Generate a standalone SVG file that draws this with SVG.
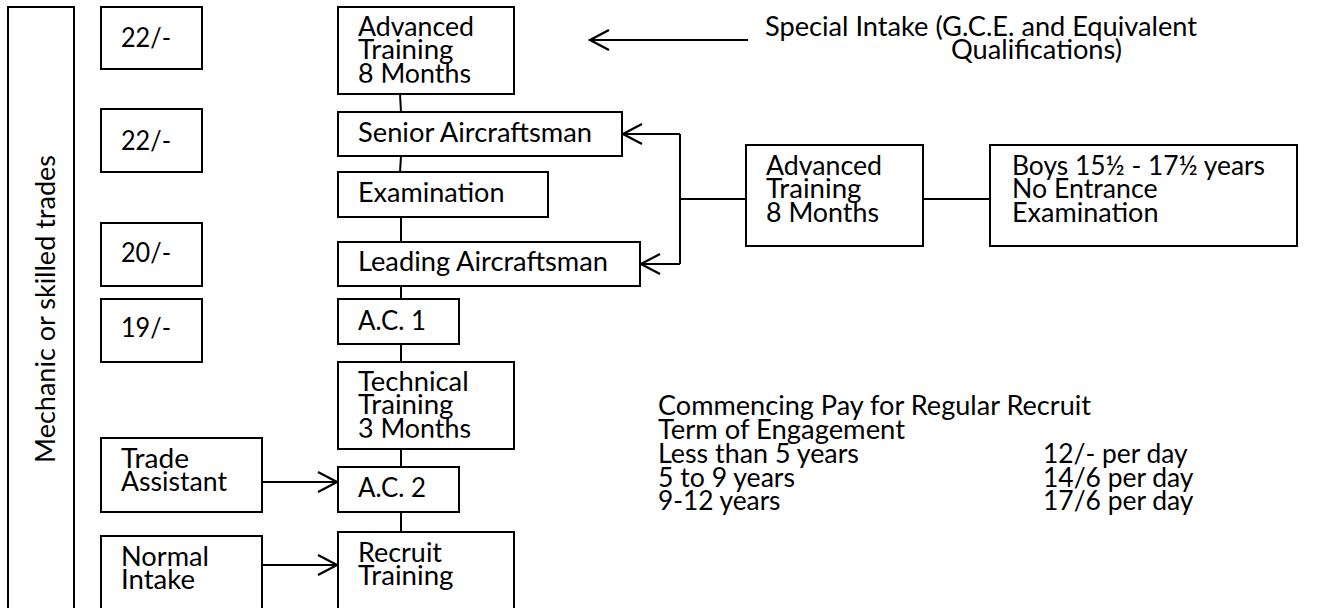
<svg xmlns="http://www.w3.org/2000/svg" width="1326" height="608" viewBox="0 0 1326 608">
<style>
.box{fill:#fff;stroke:#000;stroke-width:2}
.t{font-family:Lato,"Open Sans","Liberation Sans",sans-serif;font-size:26px;fill:#000}
.ln{fill:none;stroke:#000;stroke-width:2}
</style>
<defs>
<marker id="ah" viewBox="0 0 22 22" refX="20" refY="11" markerWidth="22" markerHeight="22" markerUnits="userSpaceOnUse" orient="auto">
<path d="M1,1 L20,11 L1,21" fill="none" stroke="#000" stroke-width="2.2"/>
</marker>
<clipPath id="c1"><rect x="338" y="7" width="176" height="75.8"/></clipPath>
<clipPath id="c2"><rect x="338" y="362" width="176" height="75.8"/></clipPath>
</defs>
<rect width="1326" height="608" fill="#fff"/>

<g id="trades">
<rect class="box" x="8" y="7" width="66" height="620"/>
<text class="t" transform="translate(55,463) rotate(-90)" x="0" y="0" textLength="308" lengthAdjust="spacingAndGlyphs">Mechanic or skilled trades</text>
</g>

<g id="pay1"><rect class="box" x="101" y="7" width="101" height="62"/><text class="t" x="121" y="47" textLength="50" lengthAdjust="spacingAndGlyphs">22/-</text></g>
<g id="pay2"><rect class="box" x="101" y="109" width="101" height="63"/><text class="t" x="121" y="150" textLength="50" lengthAdjust="spacingAndGlyphs">22/-</text></g>
<g id="pay3"><rect class="box" x="101" y="223" width="101" height="63"/><text class="t" x="121" y="262" textLength="50" lengthAdjust="spacingAndGlyphs">20/-</text></g>
<g id="pay4"><rect class="box" x="101" y="299" width="101" height="63"/><text class="t" x="121" y="337" textLength="50" lengthAdjust="spacingAndGlyphs">19/-</text></g>
<g id="trade-assistant"><rect class="box" x="101" y="438" width="161" height="74"/>
<text class="t" x="121" y="468" textLength="68" lengthAdjust="spacingAndGlyphs">Trade</text>
<text class="t" x="121" y="491" textLength="106" lengthAdjust="spacingAndGlyphs">Assistant</text></g>
<g id="normal-intake"><rect class="box" x="101" y="536" width="161" height="90"/>
<text class="t" x="121" y="566" textLength="88" lengthAdjust="spacingAndGlyphs">Normal</text>
<text class="t" x="121" y="589" textLength="74" lengthAdjust="spacingAndGlyphs">Intake</text></g>

<g id="adv-training"><rect class="box" x="338" y="7" width="176" height="87"/>
<g clip-path="url(#c1)">
<text class="t" x="358" y="36" textLength="116" lengthAdjust="spacingAndGlyphs">Advanced</text>
<text class="t" x="358" y="59.3" textLength="95.5" lengthAdjust="spacingAndGlyphs">Training</text>
<text class="t" x="358" y="82.6" textLength="113" lengthAdjust="spacingAndGlyphs">8 Months</text>
</g></g>
<g id="senior"><rect class="box" x="338" y="112" width="284" height="44"/><text class="t" x="358" y="142" textLength="234" lengthAdjust="spacingAndGlyphs">Senior Aircraftsman</text></g>
<g id="exam"><rect class="box" x="338" y="172" width="210" height="45"/><text class="t" x="358" y="202" textLength="146.5" lengthAdjust="spacingAndGlyphs">Examination</text></g>
<g id="leading"><rect class="box" x="338" y="242" width="302" height="44"/><text class="t" x="358" y="271" textLength="250" lengthAdjust="spacingAndGlyphs">Leading Aircraftsman</text></g>
<g id="ac1"><rect class="box" x="338" y="299" width="121" height="45"/><text class="t" x="358" y="330" textLength="68" lengthAdjust="spacingAndGlyphs">A.C. 1</text></g>
<g id="tech-training"><rect class="box" x="338" y="362" width="176" height="87"/>
<g clip-path="url(#c2)">
<text class="t" x="358" y="391" textLength="110.7" lengthAdjust="spacingAndGlyphs">Technical</text>
<text class="t" x="358" y="414.3" textLength="95.5" lengthAdjust="spacingAndGlyphs">Training</text>
<text class="t" x="358" y="437.6" textLength="113" lengthAdjust="spacingAndGlyphs">3 Months</text>
</g></g>
<g id="ac2"><rect class="box" x="338" y="467" width="121" height="45"/><text class="t" x="358" y="497" textLength="68" lengthAdjust="spacingAndGlyphs">A.C. 2</text></g>
<g id="recruit-training"><rect class="box" x="338" y="532" width="176" height="94"/>
<text class="t" x="358" y="562" textLength="84" lengthAdjust="spacingAndGlyphs">Recruit</text>
<text class="t" x="358" y="585.3" textLength="95.5" lengthAdjust="spacingAndGlyphs">Training</text></g>

<g id="special-intake">
<text class="t" x="765" y="36" textLength="432" lengthAdjust="spacingAndGlyphs">Special Intake (G.C.E. and Equivalent</text>
<text class="t" x="951" y="59" textLength="171" lengthAdjust="spacingAndGlyphs">Qualifications)</text>
</g>

<g id="adv-training-boys"><rect class="box" x="746" y="145" width="177" height="101"/>
<text class="t" x="766" y="175" textLength="116" lengthAdjust="spacingAndGlyphs">Advanced</text>
<text class="t" x="766" y="198" textLength="95.5" lengthAdjust="spacingAndGlyphs">Training</text>
<text class="t" x="766" y="221.5" textLength="113" lengthAdjust="spacingAndGlyphs">8 Months</text></g>
<g id="boys"><rect class="box" x="990" y="145" width="307" height="101"/>
<text class="t" x="1012" y="175" textLength="253" lengthAdjust="spacingAndGlyphs">Boys 15½ - 17½ years</text>
<text class="t" x="1012" y="198" textLength="145.5" lengthAdjust="spacingAndGlyphs">No Entrance</text>
<text class="t" x="1012" y="221.5" textLength="146.5" lengthAdjust="spacingAndGlyphs">Examination</text></g>

<g id="pay-table">
<text class="t" x="658" y="415" textLength="433" lengthAdjust="spacingAndGlyphs">Commencing Pay for Regular Recruit</text>
<text class="t" x="658" y="438.5" textLength="247" lengthAdjust="spacingAndGlyphs">Term of Engagement</text>
<text class="t" x="658" y="463" textLength="201" lengthAdjust="spacingAndGlyphs">Less than 5 years</text>
<text class="t" x="658" y="486.5" textLength="137" lengthAdjust="spacingAndGlyphs">5 to 9 years</text>
<text class="t" x="658" y="510" textLength="122.5" lengthAdjust="spacingAndGlyphs">9-12 years</text>
<text class="t" x="1043" y="463" textLength="144.6" lengthAdjust="spacingAndGlyphs">12/- per day</text>
<text class="t" x="1043" y="486.5" textLength="150.5" lengthAdjust="spacingAndGlyphs">14/6 per day</text>
<text class="t" x="1043" y="510" textLength="150.5" lengthAdjust="spacingAndGlyphs">17/6 per day</text>
</g>

<g id="connectors">
<path class="ln" d="M400,94 L401,112"/>
<path class="ln" d="M401,156 L400,172"/>
<path class="ln" d="M401,217 L401,242"/>
<path class="ln" d="M401,286 L401,299"/>
<path class="ln" d="M401,344 L401,362"/>
<path class="ln" d="M401,449 L401,467"/>
<path class="ln" d="M401,512 L401,532"/>
<path class="ln" d="M748,40 L590,40" marker-end="url(#ah)"/>
<path class="ln" d="M680,134 L680,264"/>
<path class="ln" d="M680,134 L623,134" marker-end="url(#ah)"/>
<path class="ln" d="M680,264 L641,264" marker-end="url(#ah)"/>
<path class="ln" d="M680,199 L746,199"/>
<path class="ln" d="M923,199 L990,199"/>
<path class="ln" d="M262,482 L337,482" marker-end="url(#ah)"/>
<path class="ln" d="M262,565 L337,565" marker-end="url(#ah)"/>
</g>
</svg>
